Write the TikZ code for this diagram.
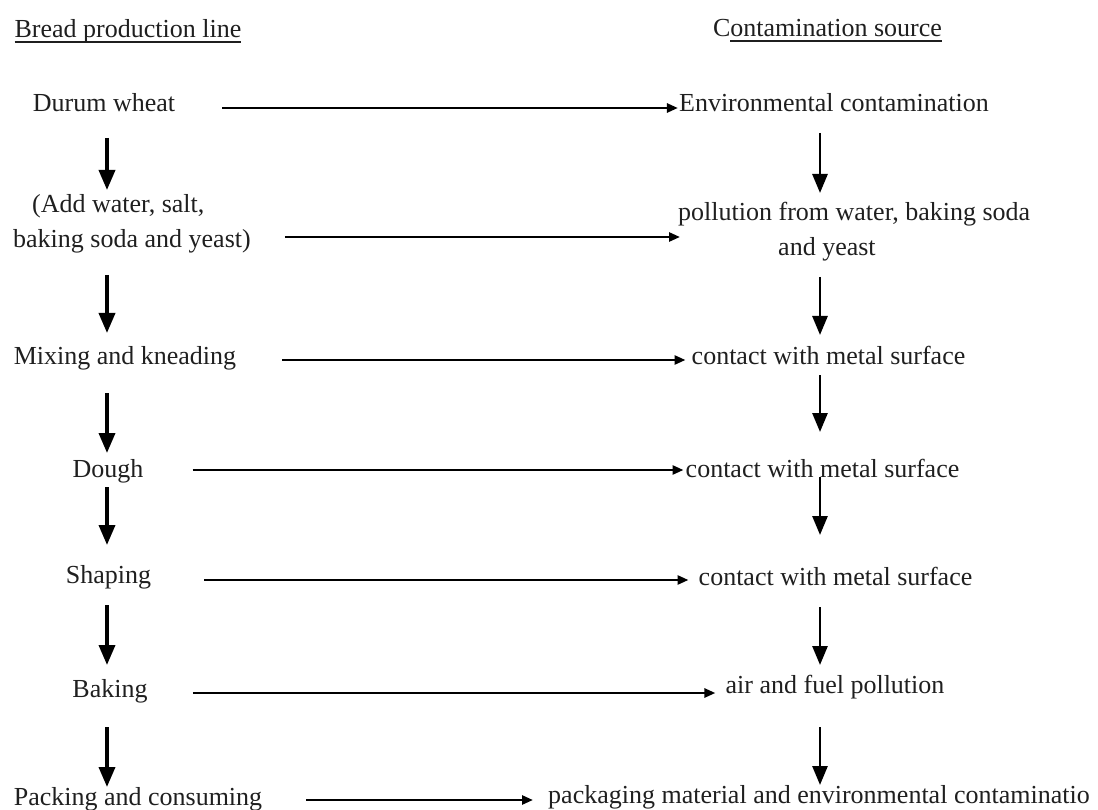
\documentclass[tikz,border=0pt]{standalone}
\usepackage{fontspec}
\setmainfont{Liberation Serif}
\usetikzlibrary{arrows.meta,calc}
\newcommand\thickul[1]{\setbox0\hbox{#1}\rlap{\rule[-5pt]{\wd0}{1.8pt}}\box0}
\begin{document}
\begin{tikzpicture}[x=1pt,y=-1pt,
  txt/.style={inner sep=0pt, anchor=base, text=black!88, font=\fontsize{26}{34.5}\selectfont},
  harrow/.style={line width=2.6pt, -{Triangle[length=11pt,width=9pt]}},
  varrow/.style={line width=3.6pt, -{Triangle[length=20pt,width=16pt]}},
  varrowR/.style={line width=2.8pt, -{Triangle[length=19pt,width=15pt]}}]
\useasboundingbox (0,0) rectangle (1098,810);
\coordinate (colL) at (107,0);
\coordinate (colR) at (820,0);
% headings
\node[txt] (t1) at (128,38) {\thickul{Bread production line}};
\node[txt] (t2) at (827.5,37) {C\thickul{ontamination source}};
% left column
\node[txt] (dw) at (104,112) {Durum wheat};
\node[txt, anchor=base west] (aw) at (13,213) {\begin{tabular}[t]{@{}l@{}}\hspace*{19pt}(Add water, salt,\\ baking soda and yeast)\end{tabular}};
\node[txt] (mix) at (125,365) {Mixing and kneading};
\node[txt] (dough) at (108,477) {Dough};
\node[txt] (shape) at (108.5,583) {Shaping};
\node[txt] (bake) at (110,697) {Baking};
\node[txt] (packc) at (138,805) {Packing and consuming};
% right column
\node[txt] (env) at (834,112) {Environmental contamination};
\node[txt, anchor=base west] (pol) at (678,221) {\begin{tabular}[t]{@{}l@{}}pollution from water, baking soda\\ \hspace*{100pt}and yeast\end{tabular}};
\node[txt] (cm1) at (828.5,365) {contact with metal surface};
\node[txt] (cm2) at (822.5,477) {contact with metal surface};
\node[txt] (cm3) at (835.5,585) {contact with metal surface};
\node[txt] (air) at (835,693) {air and fuel pollution};
\node[txt, anchor=base west] (pkm) at (548,803) {packaging material and environmental contaminatio};
% horizontal arrows
\draw[harrow, shorten >=1pt] ($(dw.base east)+(47,-4)$) coordinate (h1) -- (h1 -| env.west);
\draw[harrow, shorten >=-2pt] ($(aw.base east)+(34,24)$) coordinate (h2) -- (h2 -| pol.west);
\draw[harrow, shorten >=6pt] ($(mix.base east)+(46,-5)$) coordinate (h3) -- (h3 -| cm1.west);
\draw[harrow, shorten >=2pt] ($(dough.base east)+(49,-7)$) coordinate (h4) -- (h4 -| cm2.west);
\draw[harrow, shorten >=10pt] ($(shape.base east)+(53,-3)$) coordinate (h5) -- (h5 -| cm3.west);
\draw[harrow, shorten >=10pt] ($(bake.base east)+(45,-4)$) coordinate (h6) -- (h6 -| air.west);
\draw[harrow, shorten >=15pt] ($(packc.base east)+(44,-5)$) coordinate (h7) -- (h7 -| pkm.west);
% left vertical arrows
\draw[varrow] ($(colL |- dw.base)+(0,26)$) -- ($(colL |- aw.base)+(0,-23)$);
\draw[varrow] ($(colL |- aw.base)+(0,62)$) -- ($(colL |- mix.base)+(0,-32)$);
\draw[varrow] ($(colL |- mix.base)+(0,28)$) -- ($(colL |- dough.base)+(0,-24)$);
\draw[varrow] ($(colL |- dough.base)+(0,10)$) -- ($(colL |- shape.base)+(0,-38)$);
\draw[varrow] ($(colL |- shape.base)+(0,22)$) -- ($(colL |- bake.base)+(0,-32)$);
\draw[varrow] ($(colL |- bake.base)+(0,30)$) -- ($(colL |- packc.base)+(0,-18)$);
% right vertical arrows
\draw[varrowR] ($(colR |- env.base)+(0,21)$) -- ($(colR |- pol.base)+(0,-28)$);
\draw[varrowR] ($(colR |- pol.base)+(0,56)$) -- ($(colR |- cm1.base)+(0,-30)$);
\draw[varrowR] ($(colR |- cm1.base)+(0,10)$) -- ($(colR |- cm2.base)+(0,-45)$);
\draw[varrowR] ($(colR |- cm2.base)+(0,0)$) -- ($(colR |- cm3.base)+(0,-50)$);
\draw[varrowR] ($(colR |- cm3.base)+(0,22)$) -- ($(colR |- air.base)+(0,-28)$);
\draw[varrowR] ($(colR |- air.base)+(0,34)$) -- ($(colR |- pkm.base)+(0,-18)$);
\end{tikzpicture}
\end{document}
